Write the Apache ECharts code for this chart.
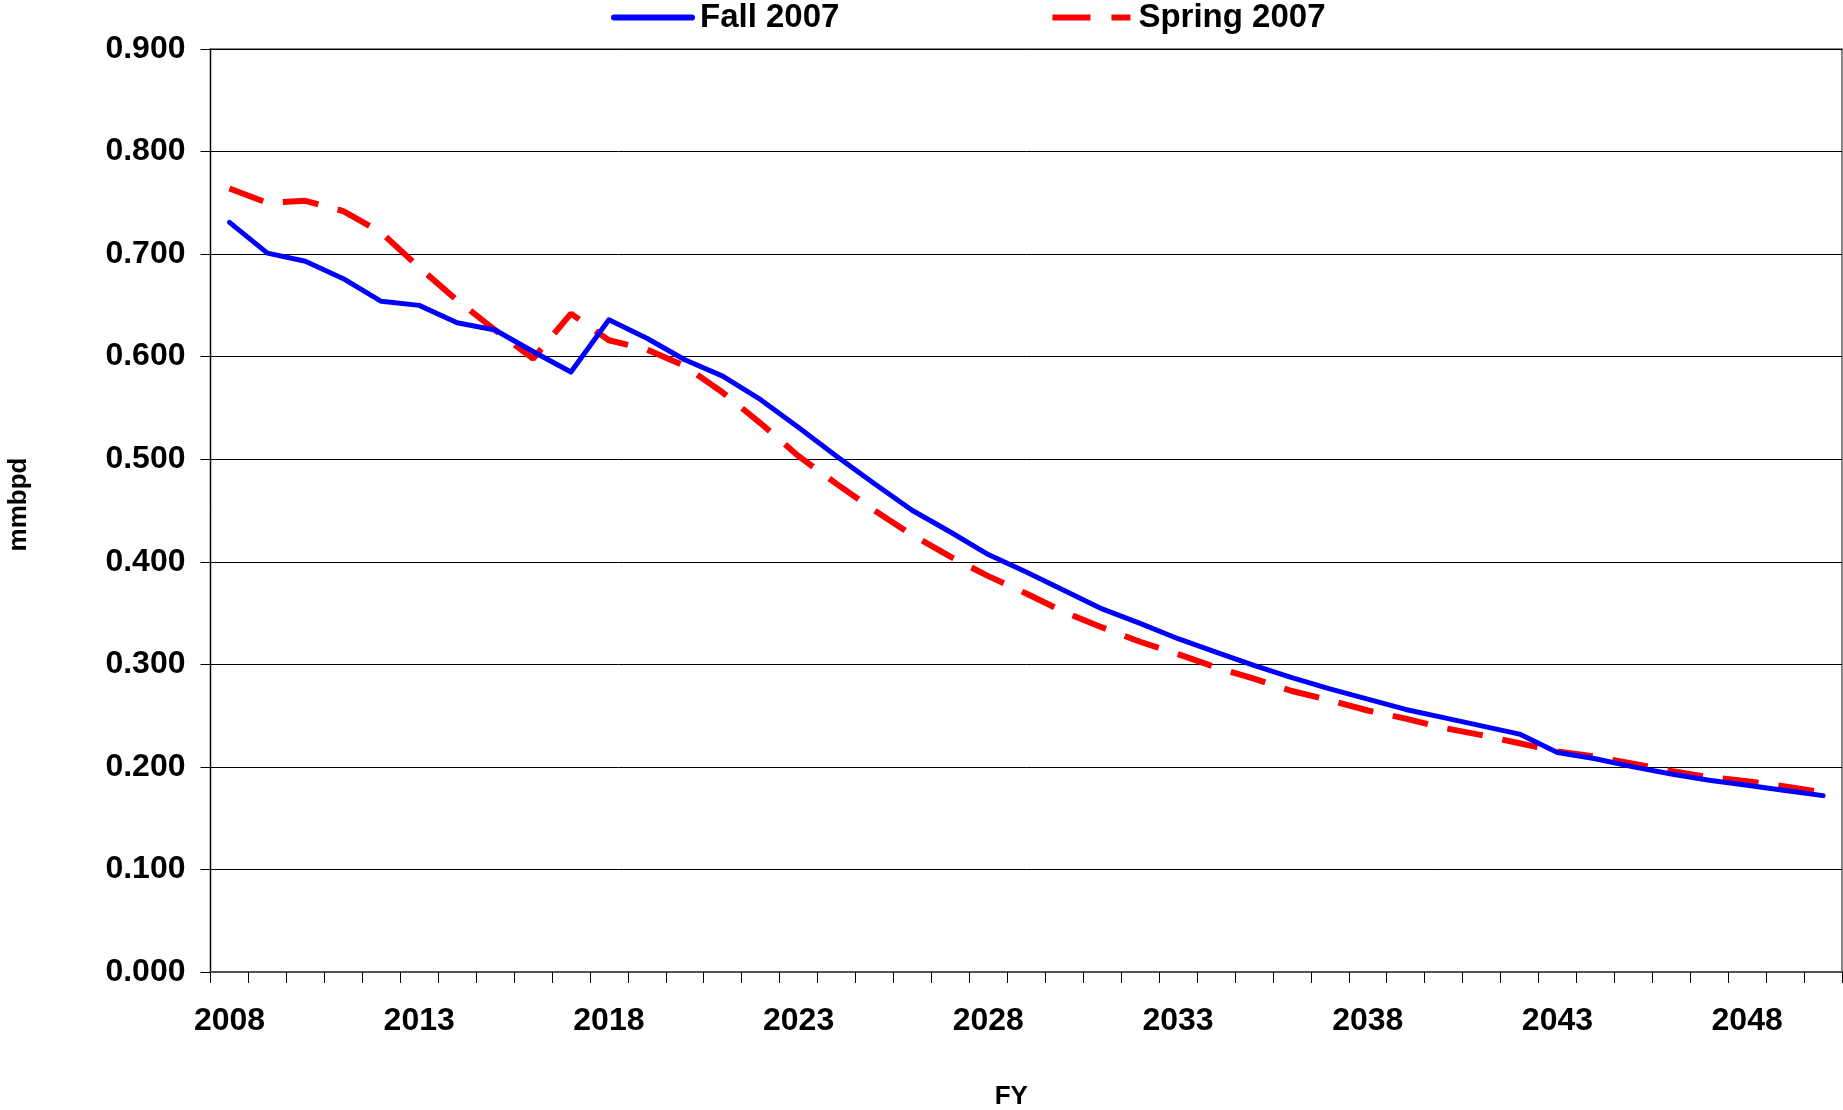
<!DOCTYPE html>
<html>
<head>
<meta charset="utf-8">
<script src="https://cdn.jsdelivr.net/npm/echarts@6/dist/echarts.min.js"></script>
<style>
html,body{margin:0;padding:0;background:#fff;overflow:hidden;}
#chart{width:1843px;height:1110px;}
</style>
</head>
<body>
<div id="chart"></div>
<script>
const years = [];
for (let y = 2008; y <= 2050; y++) years.push(String(y));

const fall2007 = [0.731, 0.701, 0.693, 0.676, 0.654, 0.650, 0.633, 0.626, 0.605, 0.585,
  0.636, 0.618, 0.597, 0.581, 0.558, 0.531, 0.503, 0.476, 0.450, 0.429,
  0.407, 0.390, 0.372, 0.354, 0.340, 0.325, 0.312, 0.299, 0.287, 0.276,
  0.266, 0.256, 0.248, 0.240, 0.232, 0.214, 0.208, 0.200, 0.193, 0.187,
  0.182, 0.177, 0.172];

const spring2007 = [0.764, 0.750, 0.752, 0.742, 0.721, 0.687, 0.655, 0.626, 0.598, 0.642,
  0.616, 0.607, 0.591, 0.565, 0.535, 0.503, 0.476, 0.450, 0.426, 0.405,
  0.386, 0.369, 0.351, 0.336, 0.322, 0.310, 0.297, 0.286, 0.274, 0.265,
  0.255, 0.247, 0.238, 0.231, 0.223, 0.215, 0.210, 0.203, 0.196, 0.190,
  0.186, 0.181, 0.175];

const FONT = "'Liberation Sans', Arial, sans-serif";
const chart = echarts.init(document.getElementById('chart'), null, {renderer: 'canvas'});
chart.setOption({
  animation: false,
  backgroundColor: '#ffffff',
  legend: {
    left: 606,
    top: -4,
    itemWidth: 84,
    itemHeight: 6,
    itemGap: 213,
    textStyle: {fontFamily: FONT, fontWeight: 'bold', fontSize: 33, color: '#000'},
    data: [
      {name: 'Fall 2007', icon: 'path://M3,0H81A3,3 0 0 1 81,6H3A3,3 0 0 1 3,0Z'},
      {name: 'Spring 2007', icon: 'path://M0,0H38V6H0ZM59,0H78V6H59Z'}
    ]
  },
  grid: {
    left: 210.5, right: 1, top: 49, bottom: 138,
    containLabel: false,
    outerBoundsMode: 'none',
    show: true, borderColor: '#888', borderWidth: 2, backgroundColor: 'transparent'
  },
  xAxis: {
    type: 'category',
    data: years,
    boundaryGap: true,
    name: 'FY',
    nameLocation: 'middle',
    nameGap: 112,
    nameTextStyle: {fontFamily: FONT, fontWeight: 'bold', fontSize: 26, color: '#000', padding: [0, 30, 0, 0]},
    axisLine: {show: true, lineStyle: {color: '#555', width: 2}},
    axisTick: {show: true, interval: 0, length: 11, lineStyle: {color: '#000', width: 1}},
    axisLabel: {interval: 4, margin: 33, fontFamily: FONT, fontWeight: 'bold', fontSize: 32, color: '#000'},
    splitLine: {show: false}
  },
  yAxis: {
    type: 'value',
    min: 0, max: 0.9, interval: 0.1,
    name: 'mmbpd',
    nameLocation: 'middle',
    nameGap: 179,
    nameTextStyle: {fontFamily: FONT, fontWeight: 'bold', fontSize: 26, color: '#000', padding: [0, 0, 0, 12]},
    axisLine: {show: true, lineStyle: {color: '#000', width: 1}},
    axisTick: {show: true, length: 10, lineStyle: {color: '#000', width: 1}},
    axisLabel: {margin: 25, fontFamily: FONT, fontWeight: 'bold', fontSize: 32, color: '#000',
      formatter: v => v.toFixed(3)},
    splitLine: {show: true, lineStyle: {color: '#000', width: 1}}
  },
  series: [
    {
      name: 'Fall 2007', type: 'line', data: fall2007,
      symbol: 'none', showSymbol: false,
      lineStyle: {color: '#0000ff', width: 5, cap: 'round', join: 'round'},
      itemStyle: {color: '#0000ff'},
      z: 3
    },
    {
      name: 'Spring 2007', type: 'line', data: spring2007,
      symbol: 'none', showSymbol: false,
      lineStyle: {color: '#ff0000', width: 6, type: [36, 20], cap: 'butt'},
      itemStyle: {color: '#ff0000'},
      z: 2
    }
  ]
});
</script>
</body>
</html>
